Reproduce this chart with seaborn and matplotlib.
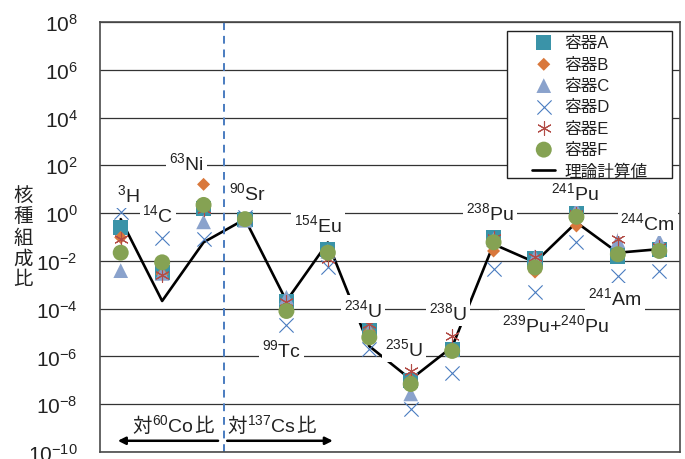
import numpy as np
import pandas as pd
import matplotlib.pyplot as plt
import seaborn as sns
from matplotlib.offsetbox import TextArea, HPacker, AnnotationBbox
from matplotlib.patches import Rectangle
from matplotlib.ticker import NullLocator

# ---------------------------------------------------------
# data
# ---------------------------------------------------------
nuclides = ['3H', '14C', '63Ni', '90Sr', '99Tc', '154Eu', '234U', '235U',
            '238U', '238Pu', '239Pu+240Pu', '241Pu', '241Am', '244Cm']

container_a = [0.24, 0.0033, 1.6, 0.56, 1.9e-4, 0.031, 1.4e-5, 9.6e-8,
               2.0e-6, 0.096, 0.012, 1.07, 0.016, 0.031]
container_b = [0.096, 0.0028, 16, 0.5, 1.5e-4, 0.02, 1.1e-5, 1.0e-7,
               1.9e-6, 0.026, 0.0034, 0.29, 0.02, 0.03]
container_c = [0.0039, 0.003, 0.43, 0.5, 3.0e-4, 0.025, 1.2e-5, 2.7e-8,
               2.0e-6, 0.08, 0.015, 1.4, 0.07, 0.07]
container_d = [1.07, 0.087, 0.08, 0.7, 2.0e-5, 0.0053, 2.0e-6, 6.3e-9,
               2.1e-7, 0.0046, 4.8e-4, 0.06, 0.0024, 0.0036]
container_e = [0.08, 0.0025, 1.5, 0.56, 1.9e-4, 0.012, 2.3e-5, 2.5e-7,
               7.4e-6, 0.09, 0.014, 0.9, 0.08, 0.04]
container_f = [0.022, 0.0087, 2.2, 0.56, 8.0e-5, 0.022, 6.3e-6, 7.0e-8,
               1.7e-6, 0.06, 0.0053, 0.7, 0.019, 0.026]
theory = [0.56, 2.1e-4, 0.06, 0.56, 2.1e-4, 0.059, 2.7e-6, 1.1e-7,
          2.5e-6, 0.05, 0.0087, 0.41, 0.022, 0.031]

series_names = ['容器A', '容器B', '容器C', '容器D', '容器E', '容器F']
series_values = [container_a, container_b, container_c,
                 container_d, container_e, container_f]

# nuclide labels: (text, x position, log10 of baseline)
labels_text = [r'$^{3}$H', r'$^{14}$C', r'$^{63}$Ni', r'$^{90}$Sr', r'$^{154}$Eu',
               r'$^{234}$U', r'$^{238}$U', r'$^{99}$Tc', r'$^{235}$U', r'$^{238}$Pu',
               r'$^{241}$Pu', r'$^{244}$Cm', r'$^{241}$Am', r'$^{239}$Pu+$^{240}$Pu']
labels_x = [0.19, 0.90, 1.58, 3.05, 4.76, 5.85, 7.91, 3.89, 6.83, 8.91,
            10.97, 12.72, 11.93, 10.48]
labels_logy = [0.52, -0.32, 1.84, 0.59, -0.74, -4.30, -4.44, -6.00, -5.94,
               -0.25, 0.59, -0.67, -3.81, -4.93]

# ---------------------------------------------------------
# style
# ---------------------------------------------------------
sns.set_theme(style='white')
plt.rcParams['font.family'] = ['Liberation Sans', 'Noto Sans CJK JP']
plt.rcParams['mathtext.fontset'] = 'custom'
plt.rcParams['mathtext.rm'] = 'Liberation Sans'
plt.rcParams['mathtext.it'] = 'Liberation Sans:italic'
plt.rcParams['mathtext.bf'] = 'Liberation Sans:bold'
text_color = '#222222'

styles = {
    '容器A': dict(marker='s', color='#3a93a8', s=118),
    '容器B': dict(marker='D', color='#d9783c', s=44),
    '容器C': dict(marker='^', color='#8aa2cc', s=112),
    '容器D': dict(marker='x', color='#4a7cc0', s=105, linewidth=0.8),
    '容器E': dict(marker=(6, 2, 0), color='#b24c46', s=100, linewidth=0.8),
    '容器F': dict(marker='o', color='#85a253', s=132),
}

fig = plt.figure(figsize=(6.85, 4.6), dpi=100)
ax = fig.add_axes([100 / 685, 1 - 453 / 460, 580 / 685, 430 / 460])

x = np.arange(len(nuclides))
df = pd.DataFrame({'nuclide': nuclides, 'x': x, 'theory': theory})
for name, vals in zip(series_names, series_values):
    df[name] = vals

# theory line below markers
sns.lineplot(data=df, x='x', y='theory', color='black', linewidth=1.9,
             label='理論計算値', ax=ax, zorder=2)

for name in series_names:
    st = styles[name]
    kw = dict(edgecolor='none') if st['marker'] not in ('x', (6, 2, 0)) else {}
    sns.scatterplot(data=df, x='x', y=name, label=name, ax=ax, zorder=3,
                    **st, **kw)

ax.set_yscale('log')
ax.set_ylim(1e-10, 1e8)
ax.set_xlim(-0.5, len(nuclides) - 0.5)
ax.set_xticks([])
ax.set_xlabel('')
ax.set_ylabel('')
yt = list(range(-10, 9, 2))
ax.set_yticks([10.0 ** k for k in yt])
ax.set_yticklabels([r'$\mathrm{10^{%d}}$' % k for k in yt])
ax.yaxis.set_minor_locator(NullLocator())
ax.tick_params(axis='y', length=0, pad=16, labelsize=15, labelcolor=text_color)
ax.grid(axis='y', color='#333333', linewidth=0.9)
ax.set_axisbelow(True)
for sp in ax.spines.values():
    sp.set_color('#4a4a4a')
    sp.set_linewidth(1.2)

# boundary between Co-60 and Cs-137 ratios
ax.axvline(2.5, color='#4a7cc0', linestyle=(0, (4, 3)), linewidth=1.4, zorder=2.5)

# nuclide labels with white background cutting the grid lines
for t, lx, ly in zip(labels_text, labels_x, labels_logy):
    ax.text(lx, 10 ** ly, t, ha='center', va='baseline', fontsize=14,
            color=text_color, zorder=4,
            bbox=dict(boxstyle='square,pad=0.15', fc='white', ec='none'))

# bottom annotations
def ratio_label(ref, xpos):
    tp = dict(fontsize=14, color=text_color)
    box = HPacker(children=[TextArea('対', textprops=tp),
                            TextArea(ref, textprops=tp),
                            TextArea('比', textprops=tp)],
                  align='baseline', pad=0, sep=0)
    ab = AnnotationBbox(box, (xpos, 10 ** -8.83), xycoords='data',
                        frameon=False, box_alignment=(0.5, 0.5), zorder=4)
    ax.add_artist(ab)

ratio_label(r'$^{60}$Co', 1.26)
ratio_label(r'$^{137}$Cs', 3.64)
arrow_kw = dict(arrowstyle='-|>', color='black', lw=1.8, mutation_scale=11,
                shrinkA=0, shrinkB=0)
ax.annotate('', xy=(-0.07, 10 ** -9.53), xytext=(2.35, 10 ** -9.53),
            arrowprops=arrow_kw)
ax.annotate('', xy=(5.12, 10 ** -9.53), xytext=(2.57, 10 ** -9.53),
            arrowprops=arrow_kw)

# legend: manual white box, legend entries without frame
ax.add_patch(Rectangle(((507 - 100) / 580, (453 - 179) / 430),
                       (672 - 507) / 580, (179 - 32) / 430,
                       transform=ax.transAxes, fc='white', ec='#222222',
                       lw=1.0, zorder=4.5))
handles, labs = ax.get_legend_handles_labels()
order = [labs.index(n) for n in series_names] + [labs.index('理論計算値')]
leg = ax.legend([handles[i] for i in order], [labs[i] for i in order],
                loc='upper left', bbox_to_anchor=(0.745, 0.969),
                frameon=False, borderpad=0, borderaxespad=0,
                handlelength=1.4, handletextpad=0.55, labelspacing=0.38,
                fontsize=12)
leg.set_zorder(5)
for t in leg.get_texts():
    t.set_color(text_color)

# y label, stacked characters
fig.text(23 / 685, 1 - 238 / 460, '\n'.join('核種組成比'), ha='center',
         va='center', fontsize=14, linespacing=1.22, color=text_color)

fig.savefig('out.png', dpi=100)
